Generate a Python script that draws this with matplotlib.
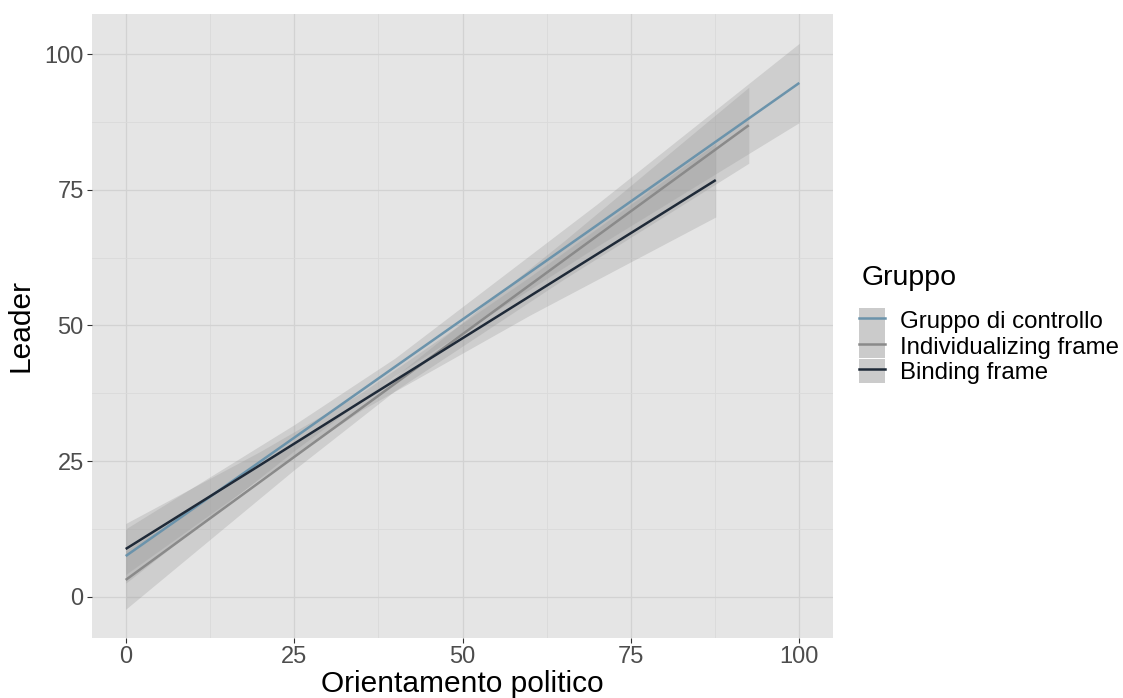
import matplotlib
matplotlib.use("Agg")
import matplotlib.pyplot as plt
from matplotlib.patches import Patch
from matplotlib.lines import Line2D

plt.rcParams['font.family'] = ['Liberation Sans', 'DejaVu Sans']

groups = ["Gruppo di controllo", "Individualizing frame", "Binding frame"]
colors = ["#6B93AB", "#8A8A8A", "#1F2A38"]

# punti: x, retta, limiti dell'intervallo
x_ctrl = [0, 25, 40, 70, 100]
y_ctrl = [7.5, 29.3, 42.4, 68.5, 94.7]
lo_ctrl = [2.5, 26.9, 40.8, 64.6, 87.4]
hi_ctrl = [12.5, 31.7, 44.0, 72.4, 102.0]

x_ind = [0, 25, 40, 65, 92.5]
y_ind = [3.1, 25.75, 39.3, 62.0, 86.9]
lo_ind = [-2.3, 23.4, 38.0, 58.5, 79.9]
hi_ind = [8.5, 28.1, 40.6, 65.5, 93.9]

x_bind = [0, 20, 35, 60, 87.6]
y_bind = [8.8, 24.3, 36.0, 55.4, 76.8]
lo_bind = [4.1, 21.8, 34.4, 51.9, 70.0]
hi_bind = [13.5, 26.8, 37.6, 59.0, 83.6]

xticks = [0, 25, 50, 75, 100]
yticks = [0, 25, 50, 75, 100]

fig = plt.figure(figsize=(11.23, 6.98), dpi=100)
ax = fig.add_axes([92 / 1123, 60 / 698, 741 / 1123, 624 / 698])
ax.set_facecolor("#E5E5E5")

data = [(x_ctrl, y_ctrl, lo_ctrl, hi_ctrl),
        (x_ind, y_ind, lo_ind, hi_ind),
        (x_bind, y_bind, lo_bind, hi_bind)]

for (xs, ys, lo, hi), c in zip(data, colors):
    ax.fill_between(xs, lo, hi, color="#999999", alpha=0.3, lw=0, zorder=2)
for (xs, ys, lo, hi), c in zip(data, colors):
    ax.plot(xs, ys, color=c, lw=1.8, zorder=3, solid_capstyle="butt")

ax.set_xlim(-5, 105)
ax.set_ylim(-7.6, 107.4)
ax.set_xticks(xticks)
ax.set_yticks(yticks)
ax.set_xticks([12.5, 37.5, 62.5, 87.5], minor=True)
ax.set_yticks([12.5, 37.5, 62.5, 87.5], minor=True)
ax.grid(which="major", color="#D2D2D2", lw=0.9, zorder=0)
ax.grid(which="minor", color="#DADADA", lw=0.6, zorder=0)
ax.set_axisbelow(True)
for s in ax.spines.values():
    s.set_visible(False)

ax.tick_params(which="major", length=3.5, width=0.8, color="#333333",
               labelsize=17, labelcolor="#4D4D4D", pad=2.5)
ax.tick_params(which="minor", length=0)

ax.set_xlabel("Orientamento politico", fontsize=21.5, color="black")
ax.set_ylabel("Leader", fontsize=21.5, color="black")
ax.xaxis.set_label_coords(0.5, -0.051)
ax.yaxis.set_label_coords(-0.077, 0.5)

fig.text(862 / 1123, 1 - 278 / 698, "Gruppo", fontsize=20.5, ha="left", va="center")

handles = [(Patch(facecolor="#CBCBCB", edgecolor="none"), Line2D([], [], color=c, lw=1.8))
           for c in colors]
leg = fig.legend(handles, groups, loc="upper left", bbox_to_anchor=(859 / 1123, 1 - 308 / 698),
                 frameon=False, fontsize=17.3,
                 handlelength=1.1, handleheight=1.2, labelspacing=0.0, handletextpad=0.6,
                 borderpad=0, borderaxespad=0)

fig.savefig("out.png", dpi=100)
